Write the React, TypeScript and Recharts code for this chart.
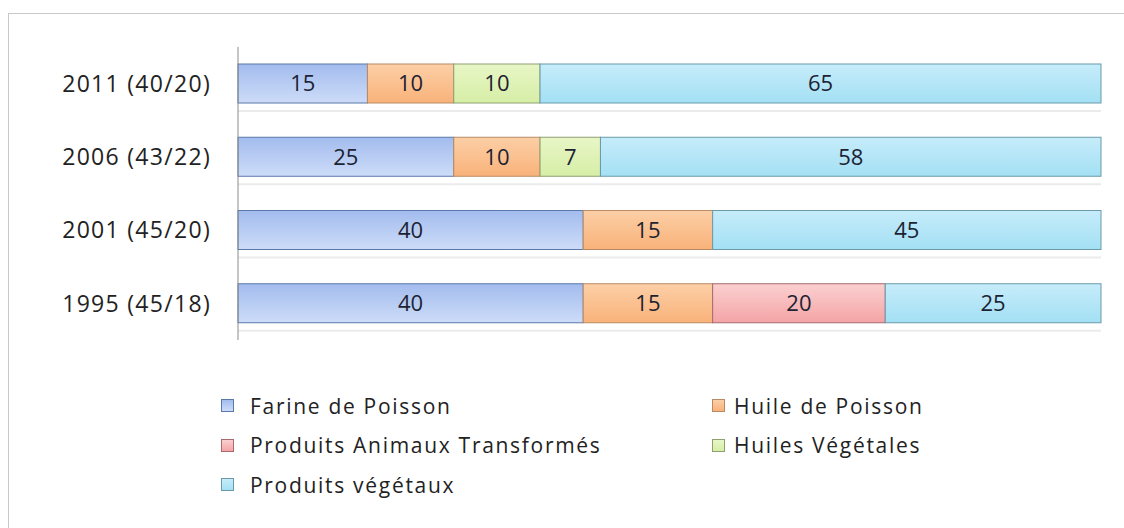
import React from 'react';
import { BarChart, Bar, XAxis, YAxis, Legend, LabelList } from 'recharts';

const categories = ['2011 (40/20)', '2006 (43/22)', '2001 (45/20)', '1995 (45/18)'];
const farinePoisson = [15, 25, 40, 40];
const huilePoisson = [10, 10, 15, 15];
const produitsAnimaux = [null, null, null, 20];
const huilesVegetales = [10, 7, null, null];
const produitsVegetaux = [65, 58, 45, 25];

const series = [
    { key: 'farine', name: 'Farine de Poisson', values: farinePoisson, top: '#a3bcee', bottom: '#cddcf8', stroke: '#5a78aa' },
    { key: 'huile', name: 'Huile de Poisson', values: huilePoisson, top: '#fccfa6', bottom: '#f9b27a', stroke: '#b98a64' },
    { key: 'animaux', name: 'Produits Animaux Transformés', values: produitsAnimaux, top: '#fbd0d0', bottom: '#f4a4a6', stroke: '#a86a6c' },
    { key: 'hvege', name: 'Huiles Végétales', values: huilesVegetales, top: '#e8f6c6', bottom: '#d6eea6', stroke: '#8ea070' },
    { key: 'pvege', name: 'Produits végétaux', values: produitsVegetaux, top: '#c6ecfa', bottom: '#a3e0f4', stroke: '#6a9aaa' },
];

const data = categories.map((c, i) => {
    const row: Record<string, any> = { cat: c };
    series.forEach(s => { row[s.key] = s.values[i]; });
    return row;
});

const FONT = '"Open Sans", "Noto Sans", sans-serif';

const SegShape = (props: any) => {
    const { x, y, width, height, fill, stroke } = props;
    if (!width || width <= 0) return null;
    return (
        <g>
            <rect x={x} y={y + height + 7} width={width} height={2} fill="#e2e2e2" opacity={0.7} />
            <rect x={x} y={y} width={width} height={height} fill={fill} stroke={stroke} strokeWidth={1} />
        </g>
    );
};

const LegendBox = () => {
    const rows: any[][] = [];
    for (let i = 0; i < series.length; i += 2) rows.push(series.slice(i, i + 2));
    return (
        <div style={{ height: 120, fontFamily: FONT, fontSize: 21, letterSpacing: 1.7, color: '#222' }}>
            {rows.map((r, ri) => (
                <div key={ri} style={{ display: 'flex', height: 39.5 }}>
                    {r.map((s, si) => (
                        <div key={s.key} style={{ display: 'flex', alignItems: 'center', width: si === 0 ? 491 : 300, paddingLeft: si === 0 ? 221 : 0 }}>
                            <span style={{ display: 'inline-block', width: 11, height: 11, border: `1px solid ${s.stroke}`, background: `linear-gradient(${s.top}, ${s.bottom})`, marginRight: si === 0 ? 16 : 9 }} />
                            <span>{s.name}</span>
                        </div>
                    ))}
                </div>
            ))}
        </div>
    );
};

const App: React.FC = () => {
    return (
        <div style={{ position: 'absolute', left: 0, top: 0, width: 1124, height: 528, background: '#fff', overflow: 'hidden' }}>
            <div style={{ position: 'absolute', left: 8, top: 13, width: 1200, height: 600, border: '1px solid #c8c8c8' }} />
            <BarChart
                layout="vertical"
                width={1124}
                height={528}
                data={data}
                barSize={39}
                margin={{ top: 47, right: 23, left: 0, bottom: 68 }}
            >
                <defs>
                    {series.map(s => (
                        <linearGradient key={s.key} id={`g-${s.key}`} x1="0" y1="0" x2="0" y2="1">
                            <stop offset="0%" stopColor={s.top} />
                            <stop offset="100%" stopColor={s.bottom} />
                        </linearGradient>
                    ))}
                </defs>
                <XAxis type="number" domain={[0, 100]} hide />
                <YAxis
                    type="category"
                    dataKey="cat"
                    width={238}
                    tickLine={false}
                    axisLine={{ stroke: '#8c8c8c' }}
                    tickMargin={21}
                    tick={{ fontSize: 23, fill: '#222', fontFamily: FONT, letterSpacing: 1.3 }}
                />
                <Legend
                    verticalAlign="bottom"
                    content={<LegendBox />}
                    wrapperStyle={{ left: 0, top: 386, width: 1124 }}
                />
                {series.map(s => (
                    <Bar
                        key={s.key}
                        dataKey={s.key}
                        name={s.name}
                        stackId="a"
                        fill={`url(#g-${s.key})`}
                        stroke={s.stroke}
                        shape={<SegShape />}
                        isAnimationActive={false}
                    >
                        <LabelList
                            dataKey={s.key}
                            position="center"
                            fill="#1c2333"
                            fontSize={22}
                            fontFamily={FONT}
                            formatter={(v: any) => (v == null ? '' : v)}
                        />
                    </Bar>
                ))}
            </BarChart>
        </div>
    );
};

export default App;
